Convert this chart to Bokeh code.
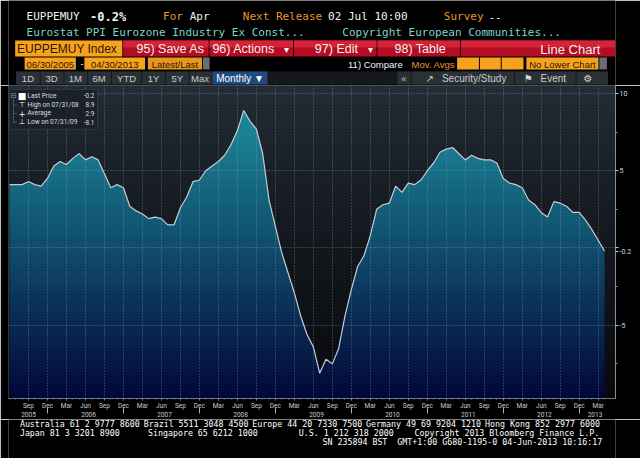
import numpy as np
import pandas as pd
from bokeh.plotting import figure
from bokeh.models import Range1d, FixedTicker, LinearAxis
from bokeh.layouts import column
from bokeh.embed import file_html
from bokeh.resources import INLINE
from bokeh.core.properties import value

# ---------------- data ----------------
start_month = "2005-06-30"
ppi_yoy = [4.1, 4.1, 4.1, 4.3, 4.1, 4.0, 4.5, 5.3, 5.6, 5.4,
           5.8, 6.1, 5.7, 5.9, 5.7, 4.8, 3.9, 4.1, 3.9, 2.7,
           2.4, 2.2, 1.9, 2.0, 1.9, 1.5, 1.5, 2.6, 3.3, 4.3,
           4.4, 5.0, 5.3, 5.6, 6.0, 6.7, 7.6, 8.9, 8.2, 7.7,
           6.1, 3.1, 1.4, -0.3, -1.6, -2.9, -4.4, -5.6, -6.4, -8.1,
           -7.2, -7.5, -6.5, -4.4, -2.7, -1.2, -0.5, 0.8, 2.5, 2.8,
           2.9, 4.0, 3.6, 4.2, 4.1, 4.4, 5.0, 5.5, 6.2, 6.4,
           6.5, 6.1, 5.7, 6.0, 5.8, 5.7, 5.7, 5.5, 4.5, 4.2,
           4.1, 3.9, 3.1, 2.8, 2.3, 2.0, 3.0, 2.9, 2.7, 2.3,
           2.3, 1.8, 1.2, 0.5, -0.2]
quarter_names = {3: "Mar", 6: "Jun", 9: "Sep", 12: "Dec"}
y_major = [-5, 0, 5, 10]
y_minor = [-7.5, -2.5, 2.5, 7.5]
y_labels = {-5: "-5", 0: "", 5: "5", 10: "10"}
last_label = "-0.2"
legend_labels = ["Last Price", "High on 07/31/08", "Average", "Low on 07/31/09"]
legend_values = ["-0.2", "8.9", "2.9", "-8.1"]
legend_icons = ["\u25a0", "\u22a4", "+", "\u22a5"]

dates = pd.date_range(start_month, periods=len(ppi_yoy), freq="ME")
xs = np.arange(len(ppi_yoy), dtype=float)
ys = np.array(ppi_yoy, dtype=float)

q_ticks = [int(i) for i, d in enumerate(dates) if d.month in quarter_names and i > 0]
q_labels = {t: quarter_names[dates[t].month] for t in q_ticks}
years = sorted(set(dates.year))
year_pos = [float(np.mean([i for i, d in enumerate(dates) if d.year == y])) for y in years]
year_labels = {p: str(y) for p, y in zip(year_pos, years)}
sep_pos = [int(i) for i, d in enumerate(dates) if d.month == 12]

# ---------------- layout helpers (reference pixel -> chart units) ----------------
W = 640
def ix(px):
    return (px - 9.0) / 6.33
def vy(py):
    return (248.0 - py) / 15.5

MONO = value("DejaVu Sans Mono")
SANS = value("Liberation Sans")
SMALL = value("Roboto")

# ---------------- header ----------------
hdr = figure(width=W, height=85, x_range=Range1d(0, 640), y_range=Range1d(85, 0),
             x_axis_location=None, y_axis_location=None, toolbar_location=None,
             output_backend="svg", min_border=0, background_fill_color="black",
             border_fill_color="black", outline_line_color=None)
hdr.grid.visible = False

ORANGE_T = "#e8952c"
WHITE = "#f2f2f2"
# row 1
hdr.text(x=[19, 163, 191, 247, 337, 459, 506], y=[16] * 7,
         text=["EUPPEMUY", "For", "Apr", "Next Release", "02 Jul 10:00", "Survey", "--"],
         text_color=[WHITE, ORANGE_T, WHITE, ORANGE_T, WHITE, ORANGE_T, WHITE],
         text_font=MONO, text_font_size="11px", text_baseline="middle")
hdr.text(x=[86], y=[16], text=["-0.2%"], text_color=WHITE, text_font=MONO,
         text_font_size="12px", text_font_style="bold", text_baseline="middle")
# row 2
hdr.text(x=[19, 352], y=[32, 32],
         text=["Eurostat PPI Eurozone Industry Ex Const...", "Copyright European Communities..."],
         text_color="#7dd4cc", text_font=MONO, text_font_size="11px", text_baseline="middle")
# row 3 : orange + red bar
hdr.quad(left=[7], right=[120], top=[40], bottom=[56], fill_color="#f7a21e", line_color=None)
red_l = [121, 212, 301, 389, 477]
red_r = [211, 300, 388, 476, 640]
hdr.quad(left=red_l, right=red_r, top=[40] * 5, bottom=[56] * 5, fill_color="#b40c22", line_color=None)
hdr.quad(left=red_l, right=red_r, top=[40] * 5, bottom=[47] * 5, fill_color="#d42236", line_color=None)
hdr.text(x=[9], y=[48.5], text=["EUPPEMUY Index"], text_color="#2a1800", text_font=SANS,
         text_font_size="12px", text_baseline="middle")
hdr.text(x=[135, 215, 323, 407], y=[48.5] * 4,
         text=["95) Save As", "96) Actions", "97) Edit", "98) Table"],
         text_color=WHITE, text_font=SANS, text_font_size="12.5px", text_baseline="middle")
hdr.text(x=[293, 382], y=[48.5, 48.5], text=["\u25be", "\u25be"], text_color=WHITE,
         text_font=SANS, text_font_size="10px", text_baseline="middle", text_align="center")
hdr.text(x=[624], y=[48.5], text=["Line Chart"], text_color=WHITE, text_font=SANS,
         text_font_size="13px", text_baseline="middle", text_align="right")
# row 4
hdr.quad(left=[17, 80, 147, 473, 497, 520, 546], right=[71, 144, 204, 496, 519, 543, 622],
         top=[57] * 7, bottom=[69] * 7,
         fill_color=["#f7a21e", "#f7a21e", "#e8961c", "#f7a21e", "#f7a21e", "#f7a21e", "#f7a21e"],
         line_color=None)
hdr.quad(left=[205, 623], right=[212, 631], top=[57, 57], bottom=[69, 69],
         fill_color="#6a6e72", line_color=None)
hdr.text(x=[44, 112, 175.5], y=[63.5] * 3, text=["06/30/2005", "04/30/2013", "Latest/Last"],
         text_color="#2a1800", text_font=SANS, text_font_size="9.5px",
         text_baseline="middle", text_align="center")
hdr.text(x=[549], y=[63.5], text=["No Lower Chart"], text_color="#2a1800", text_font=SANS,
         text_font_size="9.5px", text_baseline="middle")
hdr.text(x=[76, 358, 425], y=[63.5] * 3, text=["-", "11) Compare", "Mov. Avgs"],
         text_color=[WHITE, WHITE, ORANGE_T], text_font=SANS, text_font_size="9.5px",
         text_baseline="middle")
# row 5 : toolbar
hdr.quad(left=[8], right=[632], top=[71], bottom=[84], fill_color="#15191d", line_color=None)
btn_l = [8, 34, 59, 84, 109, 141, 166, 191, 410, 425, 534, 599]
btn_r = [33, 58, 83, 108, 140, 165, 190, 214, 424, 533, 598, 632]
hdr.quad(left=btn_l, right=btn_r, top=[71] * 12, bottom=[84] * 12,
         fill_color="#2b3035", line_color=None)
hdr.quad(left=[215], right=[273], top=[71], bottom=[84], fill_color="#1f4a7e", line_color=None)
hdr.text(x=[20.5, 45.5, 70.5, 95.5, 124.5, 153, 178, 202, 417],
         y=[77.5] * 9, text=["1D", "3D", "1M", "6M", "YTD", "1Y", "5Y", "Max", "\u00ab"],
         text_color="#c6ccd2", text_font=SANS, text_font_size="9.5px",
         text_baseline="middle", text_align="center")
hdr.text(x=[219, 457, 561], y=[77.5] * 3, text=["Monthly \u25bc", "Security/Study", "Event"],
         text_color=["#ffffff", "#c6ccd2", "#c6ccd2"], text_font=SANS, text_font_size="10px",
         text_baseline="middle")
hdr.text(x=[444, 548, 611], y=[77.5] * 3, text=["\u2197", "\u2691", "\u2699"],
         text_color="#d0d4d8", text_font=value("DejaVu Sans"), text_font_size="10px",
         text_baseline="middle", text_align="center")

# ---------------- chart ----------------
x0, x1 = ix(8), ix(615)
yb, yt = vy(399), vy(85)
ch = figure(width=W, height=334, x_range=Range1d(x0, x1), y_range=Range1d(yb, yt),
            y_axis_location="right", toolbar_location=None, output_backend="svg",
            min_border_left=8, min_border_top=0, min_border_right=25, min_border_bottom=20,
            background_fill_color="#0b0d10", border_fill_color="black", outline_line_color=None)

def lerp(c0, c1, t):
    t = min(max(float(t), 0.0), 1.0)
    return "#%02x%02x%02x" % tuple(int(round(a + (b - a) * t)) for a, b in zip(c0, c1))

def frac(v):
    return min(max((yt - v) / (yt - yb), 0.0), 1.0)

step = 0.25
eps = 0.04
edges = np.arange(yb, yt + step, step)
# background gradient (above the line)
bg_top, bg_bot = (36, 46, 56), (8, 9, 12)
bg_cols = [lerp(bg_top, bg_bot, frac(a + step / 2) ** 0.75) for a in edges[:-1]]
ch.quad(left=x0, right=x1, bottom=edges[:-1], top=edges[1:] + eps, fill_color=bg_cols,
        line_color=None, level="image")

# area gradient (under the line), exact band clipping
def densify(px, py, levels):
    ox, oy = [px[0]], [py[0]]
    for k in range(len(px) - 1):
        xa, ya, xb, yb_ = px[k], py[k], px[k + 1], py[k + 1]
        if yb_ != ya:
            lo, hi = min(ya, yb_), max(ya, yb_)
            cr = [L for L in levels if lo < L < hi]
            ts = sorted((L - ya) / (yb_ - ya) for L in cr)
            for t in ts:
                ox.append(xa + t * (xb - xa))
                oy.append(ya + t * (yb_ - ya))
        ox.append(xb)
        oy.append(yb_)
    return np.array(ox), np.array(oy)

ar_top, ar_bot = (30, 150, 164), (2, 7, 56)
for k in range(len(edges) - 1):
    a, b = edges[k], edges[k + 1]
    lo = a - eps if k > 0 else a
    if lo >= ys.max():
        break
    dx, dy = densify(xs, ys, [lo, b])
    top = np.clip(dy, lo, b)
    col = lerp(ar_top, ar_bot, frac(a + step / 2))
    ch.varea(x=dx, y1=lo, y2=top, fill_color=col, level="image")

ch.line(xs, ys, line_color="#c4ccd4", line_width=1.2)

# axes
ay = ch.yaxis[0]
ay.ticker = FixedTicker(ticks=y_major + [float(ys[-1])], minor_ticks=y_minor)
ay_over = dict(y_labels)
ay_over[float(ys[-1])] = last_label
ay.major_label_overrides = ay_over
ay.axis_line_color = "#8a9098"
ay.major_tick_line_color = "#c0c4c8"
ay.minor_tick_line_color = "#9aa0a6"
ay.major_tick_in = 0
ay.major_tick_out = 3
ay.minor_tick_in = 0
ay.minor_tick_out = 2
ay.major_label_standoff = 1
ay.major_label_text_color = "#d8dce0"
ay.major_label_text_font = "Roboto"
ay.major_label_text_font_size = "7px"

ax = ch.xaxis[0]
ax.ticker = FixedTicker(ticks=q_ticks, minor_ticks=list(range(len(ppi_yoy))))
ax.major_label_overrides = q_labels
ax.axis_line_color = "#6e767e"
ax.major_tick_line_color = "#8a9098"
ax.minor_tick_line_color = "#6e767e"
ax.major_tick_in = 0
ax.major_tick_out = 2
ax.minor_tick_in = 0
ax.minor_tick_out = 1
ax.major_label_standoff = 1
ax.major_label_text_color = "#c8ccd0"
ax.major_label_text_font = "Roboto"
ax.major_label_text_font_size = "6.5px"

ax2 = LinearAxis(ticker=FixedTicker(ticks=year_pos, minor_ticks=sep_pos),
                 major_label_overrides=year_labels)
ax2.axis_line_color = None
ax2.major_tick_line_color = None
ax2.major_tick_in = 0
ax2.major_tick_out = 0
ax2.minor_tick_in = 5
ax2.minor_tick_out = 1
ax2.minor_tick_line_color = "#b0b4b8"
ax2.major_label_standoff = -2
ax2.major_label_text_color = "#c8ccd0"
ax2.major_label_text_font = "Roboto"
ax2.major_label_text_font_size = "6.5px"
ch.add_layout(ax2, "below")

for g in (ch.xgrid[0], ch.ygrid[0]):
    g.grid_line_color = "#a0aab4"
    g.grid_line_alpha = 0.55
    g.grid_line_dash = "1 2"
    g.grid_line_width = 1
ch.ygrid[0].ticker = FixedTicker(ticks=y_major)

# legend box
rows = [95.5, 104.5, 113.0, 121.7]
ch.quad(left=[ix(9)], right=[ix(97)], top=[vy(89)], bottom=[vy(129)],
        fill_color="#1b2127", fill_alpha=0.92, line_color="#30373e")
ch.text(x=[ix(27)] * 4, y=[vy(r) for r in rows], text=legend_labels, text_color="#d8dde2",
        text_font=SMALL, text_font_size="6.5px", text_baseline="middle")
ch.text(x=[ix(94)] * 4, y=[vy(r) for r in rows], text=legend_values, text_color="#d8dde2",
        text_font=SMALL, text_font_size="6.5px", text_baseline="middle",
        text_align="right")
ch.text(x=[ix(21.5)] * 4, y=[vy(r) for r in rows], text=legend_icons, text_color="#ffffff",
        text_font=value("DejaVu Sans"), text_font_size=["9px", "7px", "8px", "7px"],
        text_baseline="middle", text_align="center")
ch.text(x=[ix(13)], y=[vy(95.5)], text=["\u229f"], text_color="#9aa2aa",
        text_font=value("DejaVu Sans"), text_font_size="7px", text_baseline="middle",
        text_align="center")
ch.segment(x0=[ix(13)] + [ix(13)] * 3, y0=[vy(99)] + [vy(r) for r in rows[1:]],
           x1=[ix(13)] + [ix(17)] * 3, y1=[vy(122)] + [vy(r) for r in rows[1:]],
           line_color="#7a828a", line_width=1, line_dash="1 1")

# ---------------- footer ----------------
ftr = figure(width=W, height=39, x_range=Range1d(0, 640), y_range=Range1d(458, 419),
             x_axis_location=None, y_axis_location=None, toolbar_location=None,
             output_backend="svg", min_border=0, background_fill_color="black",
             border_fill_color="black", outline_line_color=None)
ftr.grid.visible = False
ftr.text(x=[12, 142.5, 257, 377, 502.5,
            12, 147, 306, 428,
            331],
         y=[423.7] * 5 + [432.3] * 4 + [441],
         text=["Australia 61 2 9777 8600", "Brazil 5511 3048 4500", "Europe 44 20 7330 7500",
               "Germany 49 69 9204 1210", "Hong Kong 852 2977 6000",
               "Japan 81 3 3201 8900", "Singapore 65 6212 1000", "U.S. 1 212 318 2000",
               "Copyright 2013 Bloomberg Finance L.P.",
               "SN 235894 BST\u00a0\u00a0GMT+1:00 G680-1195-0 04-Jun-2013 10:16:17"],
         text_color="#ffffff", text_font=MONO, text_font_size="8.3px", text_baseline="middle")

layout = column(hdr, ch, ftr, spacing=0)
open("out.html", "w").write(file_html(layout, INLINE))
